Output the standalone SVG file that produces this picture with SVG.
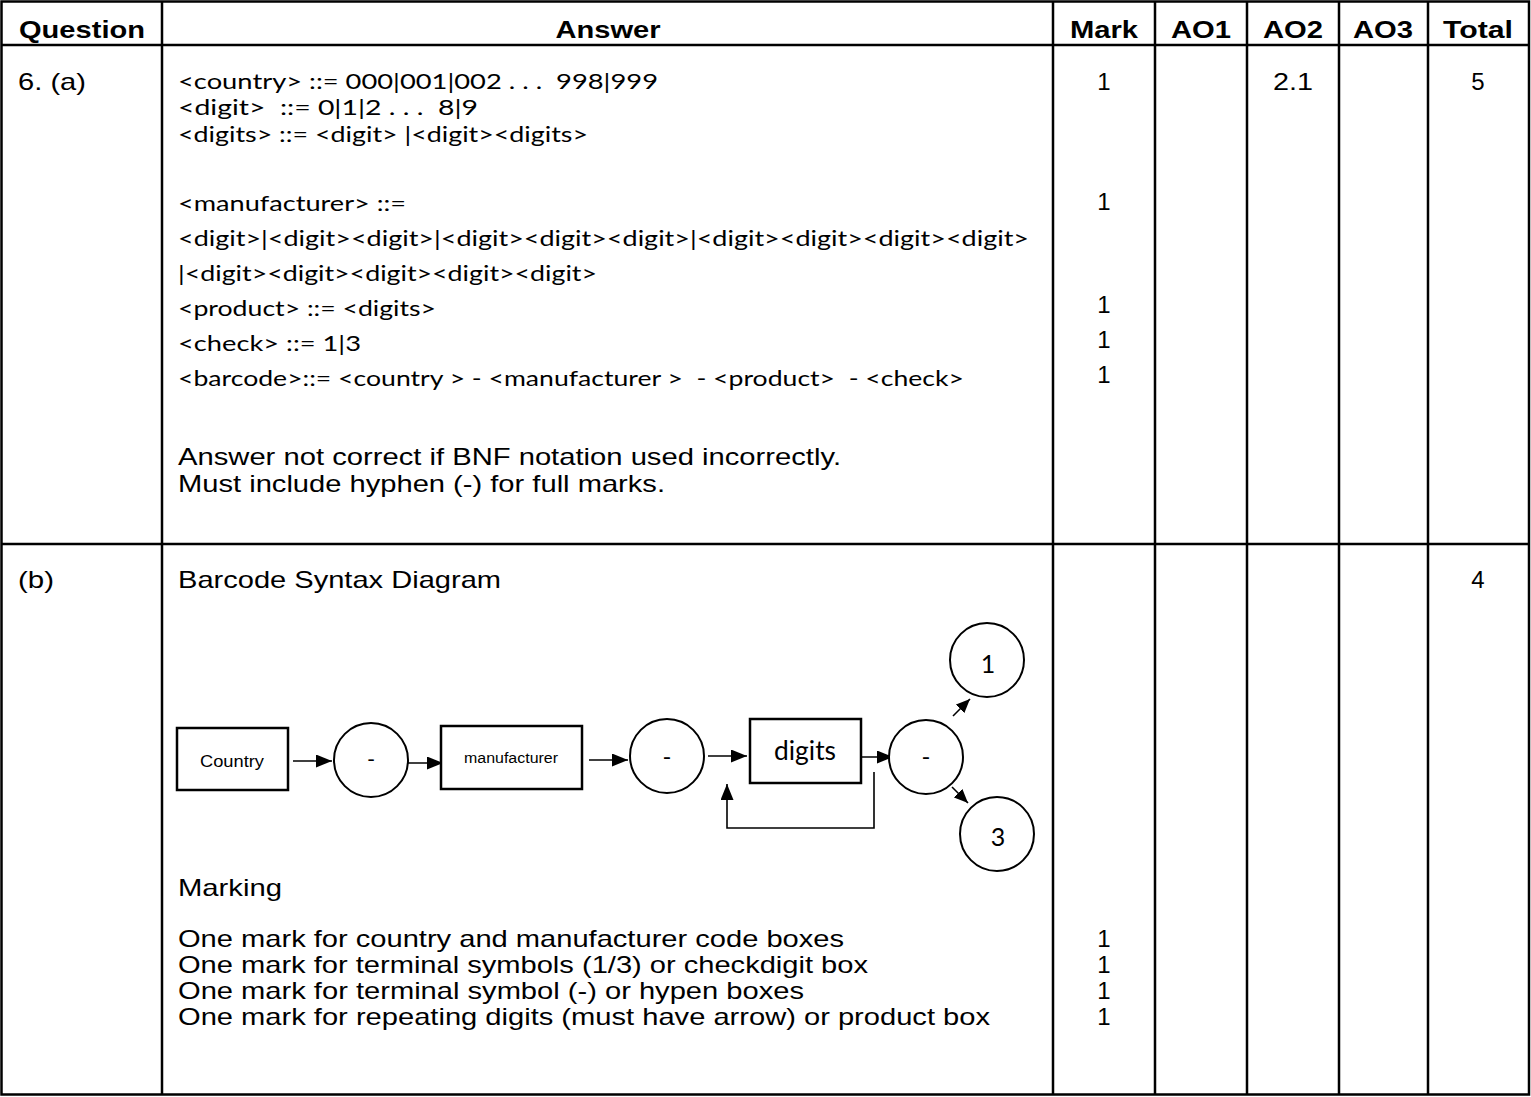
<svg xmlns="http://www.w3.org/2000/svg" width="1531" height="1097" viewBox="0 0 1531 1097">
<style>
.grid{stroke:#000;stroke-width:2.5;fill:none}
.hd{font-family:"Liberation Sans",Arial,sans-serif;font-weight:bold;font-size:24px;fill:#000;text-anchor:middle}
.ar{font-family:"Liberation Sans",Arial,sans-serif;font-size:24px;fill:#000}
.num{font-family:"Liberation Sans",Arial,sans-serif;font-size:24px;fill:#000;text-anchor:middle}
.cal{font-family:Lato,"Open Sans",sans-serif;font-size:22px;fill:#000;white-space:pre}
.box{fill:#fff;stroke:#000;stroke-width:2.5}
.circ{fill:#fff;stroke:#000;stroke-width:2}
.con{stroke:#000;stroke-width:1.6;fill:none}
.lbl{font-family:"Liberation Sans",Arial,sans-serif;fill:#000;text-anchor:middle}
.clbl{font-family:Lato,"Open Sans",sans-serif;fill:#000;text-anchor:middle}
</style>
<defs>
<marker id="ah" markerUnits="userSpaceOnUse" markerWidth="17" markerHeight="13" refX="16" refY="6.5" orient="auto">
<path d="M0,0 L16,6.5 L0,13 z" fill="#000"/>
</marker>
<marker id="ahs" markerUnits="userSpaceOnUse" markerWidth="15" markerHeight="12" refX="14" refY="6" orient="auto">
<path d="M0,0 L14,6 L0,12 z" fill="#000"/>
</marker>
</defs>
<rect x="0" y="0" width="1531" height="1097" fill="#fff"/>

<g id="table">
<rect class="grid" x="1.5" y="1.5" width="1527.5" height="1093"/>
<line class="grid" x1="1" y1="45" x2="1529" y2="45"/>
<line class="grid" x1="1" y1="544" x2="1529" y2="544"/>
<line class="grid" x1="162" y1="1" x2="162" y2="1095"/>
<line class="grid" x1="1053" y1="1" x2="1053" y2="1095"/>
<line class="grid" x1="1155" y1="1" x2="1155" y2="1095"/>
<line class="grid" x1="1247" y1="1" x2="1247" y2="1095"/>
<line class="grid" x1="1339" y1="1" x2="1339" y2="1095"/>
<line class="grid" x1="1428" y1="1" x2="1428" y2="1095"/>
</g>

<g id="header">
<text class="hd" x="82" y="38" textLength="126" lengthAdjust="spacingAndGlyphs">Question</text>
<text class="hd" x="608" y="38" textLength="105" lengthAdjust="spacingAndGlyphs">Answer</text>
<text class="hd" x="1104" y="38" textLength="68" lengthAdjust="spacingAndGlyphs">Mark</text>
<text class="hd" x="1201" y="38" textLength="60" lengthAdjust="spacingAndGlyphs">AO1</text>
<text class="hd" x="1293" y="38" textLength="60" lengthAdjust="spacingAndGlyphs">AO2</text>
<text class="hd" x="1383" y="38" textLength="60" lengthAdjust="spacingAndGlyphs">AO3</text>
<text class="hd" x="1478" y="38" textLength="70" lengthAdjust="spacingAndGlyphs">Total</text>
</g>

<g id="row-a">
<text class="ar" x="18" y="90" textLength="68" lengthAdjust="spacingAndGlyphs">6. (a)</text>
<text class="cal" x="178" y="89" textLength="480" lengthAdjust="spacingAndGlyphs" xml:space="preserve">&lt;country&gt; ::= 000|001|002 . . .  998|999</text>
<text class="cal" x="178" y="115" textLength="300" lengthAdjust="spacingAndGlyphs" xml:space="preserve">&lt;digit&gt;  ::= 0|1|2 . . .  8|9</text>
<text class="cal" x="178" y="142" textLength="410" lengthAdjust="spacingAndGlyphs" xml:space="preserve">&lt;digits&gt; ::= &lt;digit&gt; |&lt;digit&gt;&lt;digits&gt;</text>
<text class="cal" x="178" y="211" textLength="228" lengthAdjust="spacingAndGlyphs" xml:space="preserve">&lt;manufacturer&gt; ::=</text>
<text class="cal" x="178" y="246" textLength="851" lengthAdjust="spacingAndGlyphs">&lt;digit&gt;|&lt;digit&gt;&lt;digit&gt;|&lt;digit&gt;&lt;digit&gt;&lt;digit&gt;|&lt;digit&gt;&lt;digit&gt;&lt;digit&gt;&lt;digit&gt;</text>
<text class="cal" x="178" y="281" textLength="419" lengthAdjust="spacingAndGlyphs">|&lt;digit&gt;&lt;digit&gt;&lt;digit&gt;&lt;digit&gt;&lt;digit&gt;</text>
<text class="cal" x="178" y="316" textLength="258" lengthAdjust="spacingAndGlyphs" xml:space="preserve">&lt;product&gt; ::= &lt;digits&gt;</text>
<text class="cal" x="178" y="351" textLength="183" lengthAdjust="spacingAndGlyphs" xml:space="preserve">&lt;check&gt; ::= 1|3</text>
<text class="cal" x="178" y="386" textLength="786" lengthAdjust="spacingAndGlyphs" xml:space="preserve">&lt;barcode&gt;::= &lt;country &gt; - &lt;manufacturer &gt;  - &lt;product&gt;  - &lt;check&gt;</text>
<text class="ar" x="178" y="465" textLength="663" lengthAdjust="spacingAndGlyphs">Answer not correct if BNF notation used incorrectly.</text>
<text class="ar" x="178" y="492" textLength="487" lengthAdjust="spacingAndGlyphs">Must include hyphen (-) for full marks.</text>
<text class="num" x="1104" y="90">1</text>
<text class="num" x="1104" y="210">1</text>
<text class="num" x="1104" y="313">1</text>
<text class="num" x="1104" y="348">1</text>
<text class="num" x="1104" y="383">1</text>
<text class="num" x="1293" y="90" textLength="40" lengthAdjust="spacingAndGlyphs">2.1</text>
<text class="num" x="1478" y="90">5</text>
</g>

<g id="row-b">
<text class="ar" x="18" y="588" textLength="36" lengthAdjust="spacingAndGlyphs">(b)</text>
<text class="ar" x="178" y="588" textLength="323" lengthAdjust="spacingAndGlyphs">Barcode Syntax Diagram</text>
<text class="num" x="1478" y="588">4</text>
<text class="ar" x="178" y="896" textLength="104" lengthAdjust="spacingAndGlyphs">Marking</text>
<text class="ar" x="178" y="947" textLength="666" lengthAdjust="spacingAndGlyphs">One mark for country and manufacturer code boxes</text>
<text class="ar" x="178" y="973" textLength="690" lengthAdjust="spacingAndGlyphs">One mark for terminal symbols (1/3) or checkdigit box</text>
<text class="ar" x="178" y="999" textLength="626" lengthAdjust="spacingAndGlyphs">One mark for terminal symbol (-) or hypen boxes</text>
<text class="ar" x="178" y="1025" textLength="812" lengthAdjust="spacingAndGlyphs">One mark for repeating digits (must have arrow) or product box</text>
<text class="num" x="1104" y="947">1</text>
<text class="num" x="1104" y="973">1</text>
<text class="num" x="1104" y="999">1</text>
<text class="num" x="1104" y="1025">1</text>
</g>

<g id="connectors">
<line class="con" x1="293" y1="761" x2="332" y2="761" marker-end="url(#ah)"/>
<line class="con" x1="408" y1="763" x2="443" y2="763" marker-end="url(#ah)"/>
<line class="con" x1="589" y1="760" x2="628" y2="760" marker-end="url(#ah)"/>
<line class="con" x1="708" y1="756" x2="747" y2="756" marker-end="url(#ah)"/>
<line class="con" x1="857" y1="757" x2="893" y2="757" marker-end="url(#ah)"/>
<polyline class="con" points="874,772 874,828 727,828 727,784" marker-end="url(#ah)"/>
<line class="con" x1="953" y1="716" x2="970" y2="699" marker-end="url(#ahs)"/>
<line class="con" x1="952" y1="787" x2="968" y2="803" marker-end="url(#ahs)"/>
</g>

<g id="node-country">
<rect class="box" x="177" y="728" width="111" height="62"/>
<text class="lbl" x="232" y="767" font-size="17" textLength="64" lengthAdjust="spacingAndGlyphs">Country</text>
</g>
<g id="node-hyphen1">
<circle class="circ" cx="371" cy="760" r="37"/>
<text class="clbl" x="371" y="767" font-size="22">-</text>
</g>
<g id="node-manufacturer">
<rect class="box" x="441" y="726" width="141" height="63"/>
<text class="lbl" x="511" y="763" font-size="14" textLength="94" lengthAdjust="spacingAndGlyphs">manufacturer</text>
</g>
<g id="node-hyphen2">
<circle class="circ" cx="667" cy="756" r="37"/>
<text class="clbl" x="667" y="765" font-size="24">-</text>
</g>
<g id="node-digits">
<rect class="box" x="750" y="719" width="111" height="64"/>
<text class="clbl" x="805" y="760" font-size="26" textLength="62" lengthAdjust="spacingAndGlyphs">digits</text>
</g>
<g id="node-hyphen3">
<circle class="circ" cx="926" cy="757" r="37"/>
<text class="clbl" x="926" y="765" font-size="24">-</text>
</g>
<g id="node-one">
<circle class="circ" cx="987" cy="660" r="37"/>
<text class="clbl" x="988" y="673" font-size="25">1</text>
</g>
<g id="node-three">
<circle class="circ" cx="997" cy="834" r="37"/>
<text class="clbl" x="998" y="846" font-size="25">3</text>
</g>
</svg>
